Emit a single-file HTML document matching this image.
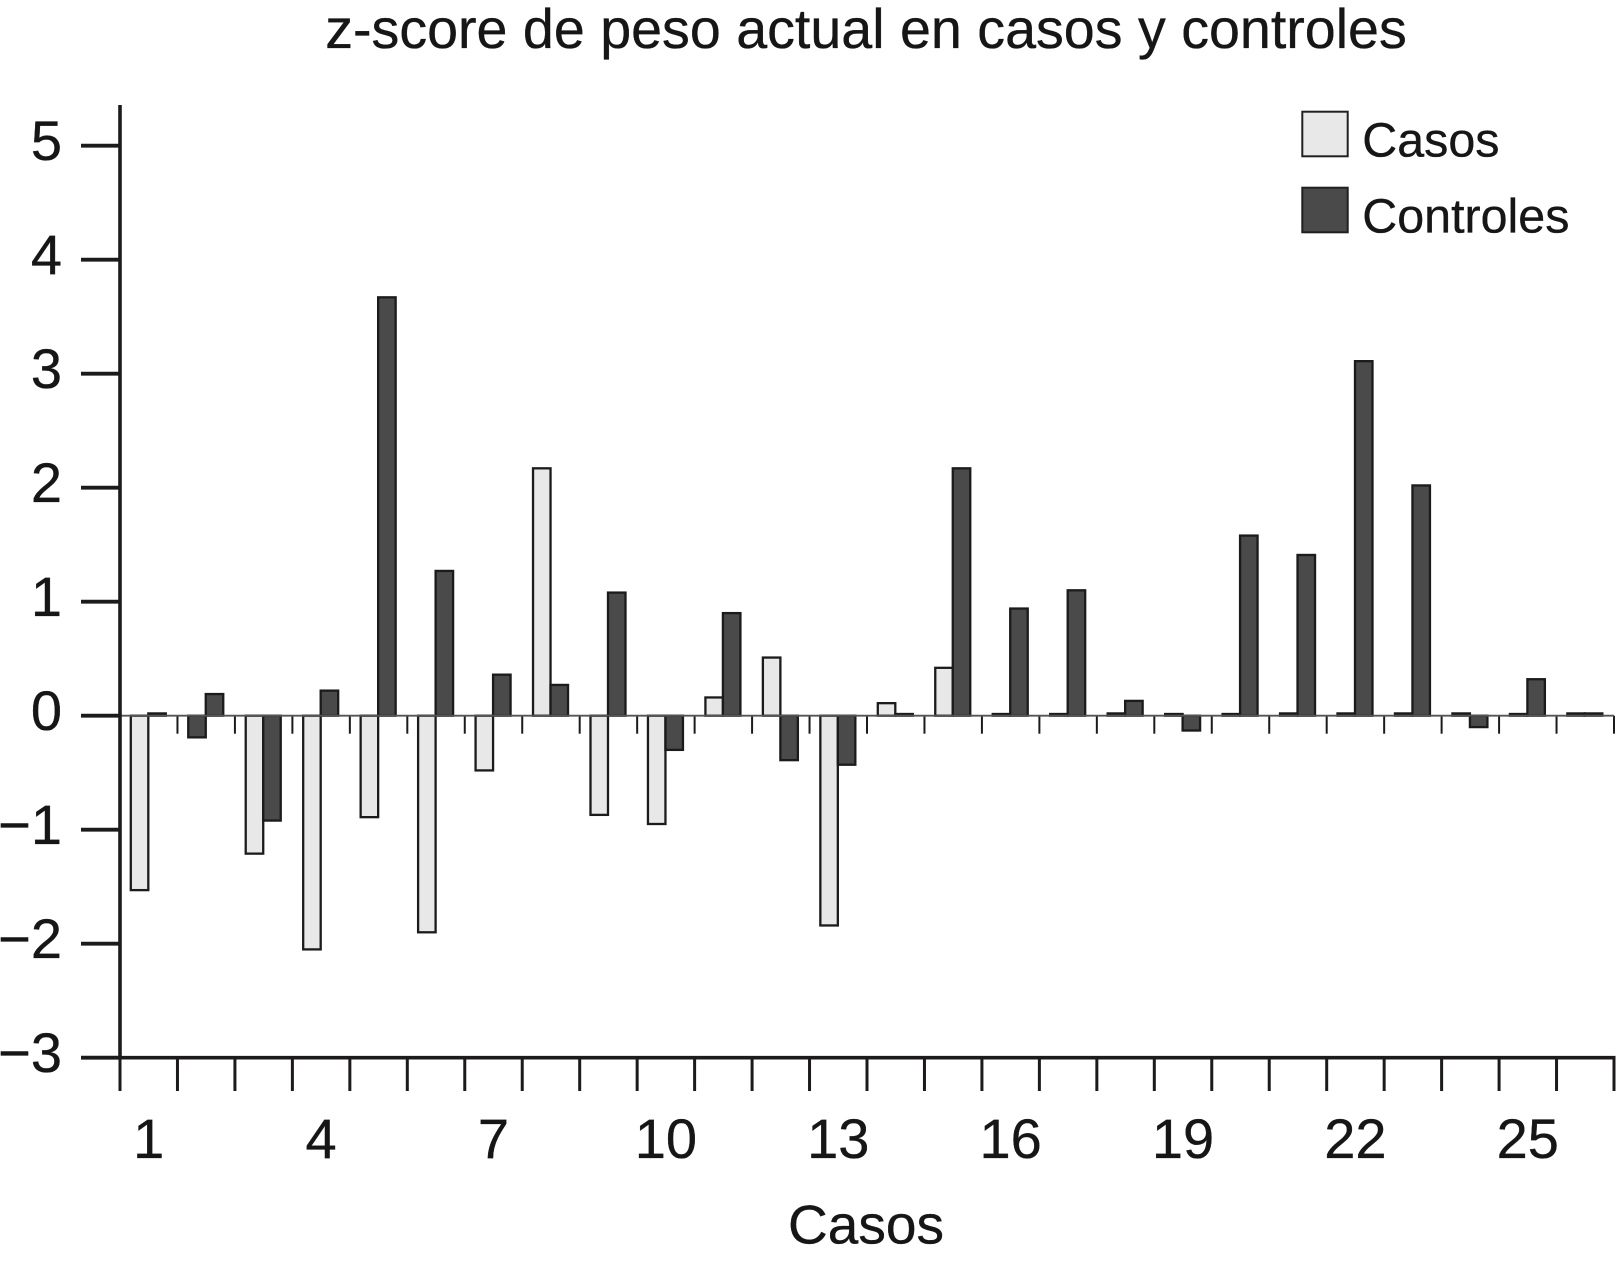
<!DOCTYPE html>
<html lang="es">
<head>
<meta charset="utf-8">
<title>z-score de peso actual en casos y controles</title>
<style>
html,body{margin:0;padding:0;background:#fff;width:1616px;height:1261px;overflow:hidden}
svg{display:block}
text{font-family:"Liberation Sans",Arial,sans-serif;fill:#161616;stroke:#161616;stroke-width:0.35}
</style>
</head>
<body>
<svg id="chart" xmlns="http://www.w3.org/2000/svg" width="1616" height="1261" viewBox="0 0 1616 1261">
  <text x="866" y="48" font-size="55.6" text-anchor="middle">z-score de peso actual en casos y controles</text>
  <text x="866" y="1243.5" font-size="55" text-anchor="middle">Casos</text>
  <g>
    <rect x="1302.3" y="111.7" width="45.4" height="44.6" fill="#e8e8e8" stroke="#231f20" stroke-width="2"/>
    <text x="1362.3" y="156.5" font-size="48.4">Casos</text>
    <rect x="1302.3" y="187.7" width="45.4" height="44.6" fill="#4a4a4a" stroke="#231f20" stroke-width="2"/>
    <text x="1362.3" y="232.5" font-size="48.4">Controles</text>
  </g>
  <g id="zero-ticks"></g>
  <g id="bars"></g>
  <g id="axes"></g>
</svg>
<script>
const categories = [1,2,3,4,5,6,7,8,9,10,11,12,13,14,15,16,17,18,19,20,21,22,23,24,25,26];
const casos = [-1.53,-0.19,-1.21,-2.05,-0.89,-1.90,-0.48,2.17,-0.87,-0.95,0.16,0.51,-1.84,0.11,0.42,0.015,0.015,0.02,0.015,0.015,0.02,0.02,0.02,0.02,0.015,0.02];
const controles = [0.02,0.19,-0.92,0.22,3.67,1.27,0.36,0.27,1.08,-0.30,0.90,-0.39,-0.43,0.015,2.17,0.94,1.10,0.13,-0.13,1.58,1.41,3.11,2.02,-0.10,0.32,0.02];
const yTickValues = [5,4,3,2,1,0,-1,-2,-3];
const xTickLabels = [1,4,7,10,13,16,19,22,25];

const NS = 'http://www.w3.org/2000/svg';
const INK = '#1c1a1b';
const LIGHT = '#e8e8e8';
const DARK = '#4a4a4a';
const plotLeft = 120, plotRight = 1614, zeroY = 715.7, unitY = 114;
const band = (plotRight - plotLeft) / categories.length;
function yScale(v){ return zeroY - v * unitY; }
function xScale(i){ return plotLeft + i * band; }
function make(tag, attrs, parent){
  const el = document.createElementNS(NS, tag);
  for (const k in attrs) el.setAttribute(k, attrs[k]);
  parent.appendChild(el);
  return el;
}
const zeroG = document.getElementById('zero-ticks');
const barsG = document.getElementById('bars');
const axesG = document.getElementById('axes');

/* short ticks under the zero line */
categories.forEach(function(c, i){
  const t = make('line', {x1:xScale(i+1), x2:xScale(i+1), y1:yScale(0), y2:yScale(0)+18, stroke:INK, 'stroke-width':2}, zeroG);
  
  
});

/* bars */
function drawBar(value, x, w, fill, name){
  const y0 = yScale(0), y1 = yScale(value);
  const r = make('rect', {x:x, y:Math.min(y0,y1), width:w, height:Math.abs(y1-y0), fill:fill, stroke:INK, 'stroke-width':2.3}, barsG);
  
  
}
const slot = 18.5, inset = 9.8;
categories.forEach(function(c, i){
  const s = xScale(i) + inset;
  /* the reference colours case 2's first bar dark and case 1's second bar light */
  drawBar(casos[i], s + 1, slot - 1, c === 2 ? DARK : LIGHT, 'bar-casos-' + c);
  drawBar(controles[i], s + slot, slot - 1, c === 1 ? LIGHT : DARK, 'bar-controles-' + c);
});

/* zero line */
const zl = make('line', {x1:plotLeft, x2:plotRight, y1:yScale(0), y2:yScale(0), stroke:'#555', 'stroke-width':1.8}, axesG);



/* y axis */
const ya = make('line', {x1:plotLeft, x2:plotLeft, y1:105, y2:yScale(-3)+1.5, stroke:INK, 'stroke-width':3.6}, axesG);


yTickValues.forEach(function(v){
  const t = make('line', {x1:81, x2:plotLeft, y1:yScale(v), y2:yScale(v), stroke:INK, 'stroke-width':3.8}, axesG);
  
  
  const l = make('text', {x:62, y:yScale(v)+14.5, 'font-size':56, 'text-anchor':'end'}, axesG);
  l.textContent = (v < 0 ? '\u2212' : '') + Math.abs(v);
  
  
});

/* x axis */
const xa = make('line', {x1:plotLeft, x2:plotRight+1.5, y1:yScale(-3), y2:yScale(-3), stroke:INK, 'stroke-width':3.6}, axesG);


for (let i = 0; i <= categories.length; i++){
  const t = make('line', {x1:xScale(i), x2:xScale(i), y1:yScale(-3), y2:1091, stroke:INK, 'stroke-width':3}, axesG);
  
  
}
xTickLabels.forEach(function(c){
  const l = make('text', {x:xScale(c-1)+band/2, y:1158, 'font-size':56, 'text-anchor':'middle'}, axesG);
  l.textContent = c;
  
  
});
</script>
</body>
</html>
